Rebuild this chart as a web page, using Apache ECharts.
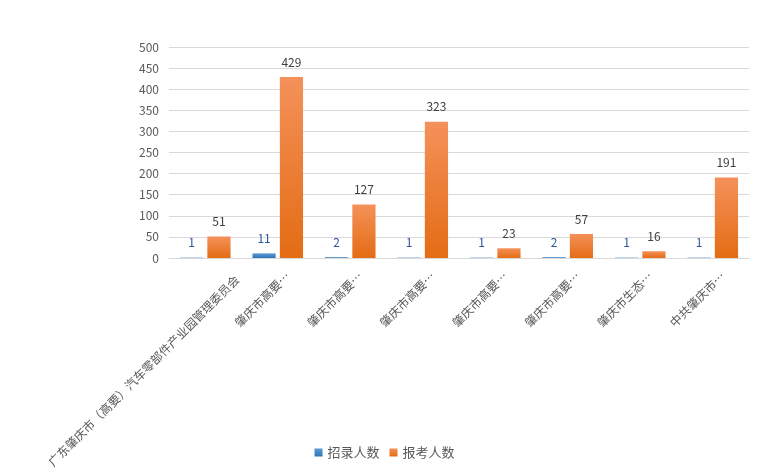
<!DOCTYPE html>
<html><head><meta charset="utf-8">
<script src="https://cdn.jsdelivr.net/npm/echarts@6/dist/echarts.min.js"></script>
<style>html,body{margin:0;padding:0;background:#fff}#c{width:769px;height:473px}</style>
</head><body><div id="c"></div>
<script>
const categories = ['广东肇庆市（高要）汽车零部件产业园管理委员会','肇庆市高要…','肇庆市高要…','肇庆市高要…','肇庆市高要…','肇庆市高要…','肇庆市生态…','中共肇庆市…'];
const hired = [1, 11, 2, 1, 1, 2, 1, 1];
const applicants = [51, 429, 127, 323, 23, 57, 16, 191];
const yTicks = {min: 0, max: 500, interval: 50};

const chart = echarts.init(document.getElementById('c'));
const font = '"Microsoft YaHei","Noto Sans CJK SC",sans-serif';
chart.setOption({
  animation: false,
  textStyle: {fontFamily: font},
  grid: {left: 169, right: 20, top: 47, bottom: 215, containLabel: false},
  legend: {
    bottom: 9, left: 'center', itemWidth: 8, itemHeight: 8, itemGap: 10,
    textStyle: {color: '#595959', fontSize: 13, fontFamily: font},
    data: [{name: '招录人数', icon: 'rect'}, {name: '报考人数', icon: 'rect'}]
  },
  xAxis: {
    type: 'category', data: categories,
    axisLine: {lineStyle: {color: '#d9d9d9'}},
    axisTick: {show: false},
    axisLabel: {
      rotate: 45, interval: 0, color: '#595959', fontSize: 12, margin: 6, verticalAlign: 'top', padding: [8, 0, 0, 0], fontFamily: font,
      formatter: (v, i) => i === 0 ? '{f|' + v + '}' : v,
      rich: {f: {color: '#595959', fontSize: 12, fontFamily: font, padding: [18, -13, 0, 0]}}
    }
  },
  yAxis: {
    type: 'value', min: yTicks.min, max: yTicks.max, interval: yTicks.interval,
    axisLine: {show: false}, axisTick: {show: false},
    axisLabel: {color: '#595959', fontSize: 12, margin: 10, fontFamily: font},
    splitLine: {lineStyle: {color: '#d9d9d9'}}
  },
  series: [
    {
      name: '招录人数', type: 'bar', data: hired, barWidth: '32%', barGap: '18%',
      itemStyle: {color: new echarts.graphic.LinearGradient(0,0,0,1,[{offset:0,color:'#5b9bd5'},{offset:1,color:'#2e75b6'}])},
      label: {show: true, position: 'top', distance: 9, color: '#2f5597', fontSize: 12, fontFamily: font}
    },
    {
      name: '报考人数', type: 'bar', data: applicants, barWidth: '32%',
      itemStyle: {color: new echarts.graphic.LinearGradient(0,0,0,1,[{offset:0,color:'#f4915a'},{offset:1,color:'#e46c14'}])},
      label: {show: true, position: 'top', distance: 9, color: '#404040', fontSize: 12, fontFamily: font}
    }
  ]
});
</script></body></html>
